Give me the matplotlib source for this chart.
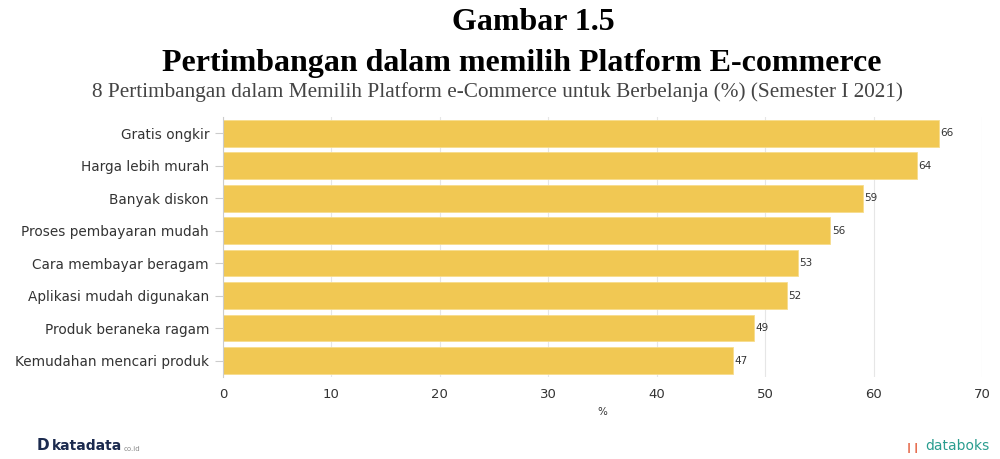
import matplotlib
matplotlib.use("Agg")
import matplotlib.pyplot as plt

categories = ["Gratis ongkir", "Harga lebih murah", "Banyak diskon", "Proses pembayaran mudah",
              "Cara membayar beragam", "Aplikasi mudah digunakan", "Produk beraneka ragam",
              "Kemudahan mencari produk"]
values = [66, 64, 59, 56, 53, 52, 49, 47]
xticks = [0, 10, 20, 30, 40, 50, 60, 70]

fig = plt.figure(figsize=(10, 4.59), dpi=100)
ax = fig.add_axes([0.223, 0.179, 0.759, 0.566])

ypos = list(range(len(categories)))
ax.barh(ypos, values, height=0.82, color="#F1C853", edgecolor="#F7DC8C", linewidth=0.6, zorder=2)
for y, v in zip(ypos, values):
    ax.text(v + 0.15, y, str(v), va="center", ha="left", fontsize=7.5, color="#333333")

ax.set_ylim(len(categories) - 0.5, -0.5)
ax.set_xlim(0, 70)
ax.set_yticks(ypos)
ax.set_yticklabels(categories, fontsize=9.8, color="#333333")
ax.set_xticks(xticks)
ax.set_xticklabels([str(t) for t in xticks], fontsize=9.5, color="#333333")
ax.tick_params(axis="y", length=6, color="#cccccc", width=0.8, pad=4)
ax.tick_params(axis="x", length=0, pad=8)
ax.grid(axis="x", color="#e6e6e6", linewidth=0.8, zorder=0)
for s in ["top", "right", "bottom"]:
    ax.spines[s].set_visible(False)
ax.spines["left"].set_color("#cccccc")
ax.spines["left"].set_linewidth(0.8)
ax.set_xlabel("%", fontsize=7.5, color="#333333", labelpad=4)

fig.text(0.533, 0.950, "Gambar 1.5", ha="center", va="center", fontsize=23,
         fontweight="bold", family="Liberation Serif")
fig.text(0.522, 0.862, "Pertimbangan dalam memilih Platform E-commerce", ha="center", va="center",
         fontsize=23, fontweight="bold", family="Liberation Serif")
fig.text(0.497, 0.799, "8 Pertimbangan dalam Memilih Platform e-Commerce untuk Berbelanja (%) (Semester I 2021)",
         ha="center", va="center", fontsize=15.3, color="#444444", family="Liberation Serif")

fig.text(0.037, 0.013, "D", ha="left", va="bottom", fontsize=11, fontweight="bold", color="#1b2a4e")
fig.text(0.052, 0.013, "katadata", ha="left", va="bottom", fontsize=10, fontweight="bold", color="#1b2a4e")
fig.text(0.124, 0.015, "co.id", ha="left", va="bottom", fontsize=5, color="#888888")
fig.text(0.99, 0.013, "databoks", ha="right", va="bottom", fontsize=10, color="#2a9d8f")
fig.text(0.905, 0.013, "\u2759\u2759", ha="left", va="bottom", fontsize=7, color="#e76f51")

fig.savefig("out.png", dpi=100)
